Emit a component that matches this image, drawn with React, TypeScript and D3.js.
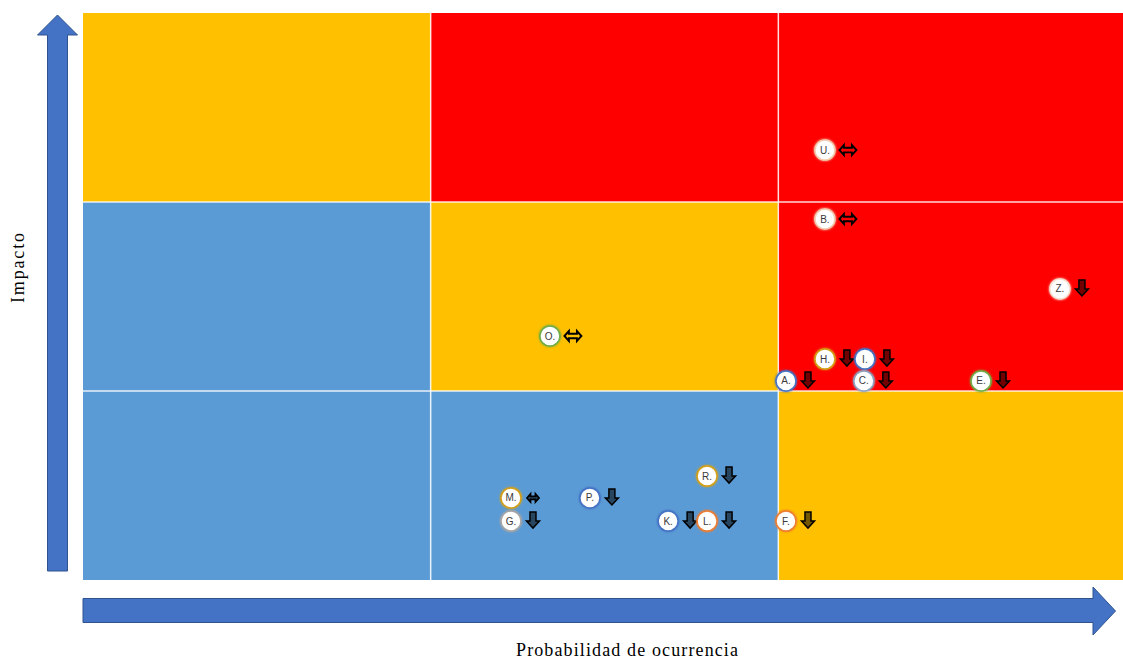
import React from "react";
import * as d3 from "d3";

const cellColors: string[][] = [
  // rows from bottom (impact 0) to top (impact 2), columns prob 0..2
  ["#5B9BD5", "#5B9BD5", "#FFC000"],
  ["#5B9BD5", "#FFC000", "#FF0000"],
  ["#FFC000", "#FF0000", "#FF0000"],
];

const labels = ["U.", "B.", "Z.", "O.", "H.", "I.", "A.", "C.", "E.", "R.", "M.", "P.", "G.", "K.", "L.", "F."];
const probValues = [2.134, 2.134, 2.81, 1.343, 2.134, 2.249, 2.022, 2.246, 2.583, 1.795, 1.231, 1.458, 1.231, 1.683, 1.795, 2.022];
const impactValues = [2.275, 1.91, 1.54, 1.291, 1.169, 1.169, 1.053, 1.053, 1.053, 0.55, 0.434, 0.434, 0.312, 0.312, 0.312, 0.312];
const trends = ["both", "both", "down", "both", "down", "down", "down", "down", "down", "down", "small", "down", "down", "down", "down", "down"];
const borderColors = ["#F2CDB0", "#F2CDB0", "#F5E0D0", "#70AD47", "#D4A017", "#4472C4", "#4472C4", "#8FA3BF", "#70AD47", "#D4A017", "#D4A017", "#4472C4", "#A5A5A5", "#4472C4", "#ED7D31", "#ED7D31"];

const xAxisTitle = "Probabilidad de ocurrencia";
const yAxisTitle = "Impacto";

export default function App() {
  const W = 1123;
  const H = 660;
  const x = d3.scaleLinear().domain([0, 3]).range([83, 1126]);
  const y = d3.scaleLinear().domain([0, 3]).range([580, 13]);

  const downPath = "M-3,-8 L3,-8 L3,1 L6.5,1 L0,8 L-6.5,1 L-3,1 Z";
  const bothPath = "M-8.5,0 L-4,-5 L-4,-2.3 L4,-2.3 L4,-5 L8.5,0 L4,5 L4,2.3 L-4,2.3 L-4,5 Z";
  const smallPath = "M-6,0 L-2.5,-4 L-2.5,-1.5 L2.5,-1.5 L2.5,-4 L6,0 L2.5,4 L2.5,1.5 L-2.5,1.5 L-2.5,4 Z";

  const cells: { c: number; r: number; color: string }[] = [];
  cellColors.forEach((row, r) => row.forEach((color, c) => cells.push({ c, r, color })));

  return (
    <svg width={W} height={H} style={{ position: "absolute", left: 0, top: 0, background: "#fff" }}>
      <defs>
        <filter id="glow" x="-50%" y="-50%" width="200%" height="200%">
          <feGaussianBlur stdDeviation="1" />
        </filter>
      </defs>
      {cells.map((d) => (
        <rect
          key={`${d.c}-${d.r}`}
          x={x(d.c)}
          y={y(d.r + 1)}
          width={Math.min(x(d.c + 1), W) - x(d.c)}
          height={y(d.r) - y(d.r + 1)}
          fill={d.color}
        />
      ))}
      {[1, 2].map((v) => (
        <line key={"vx" + v} x1={x(v)} x2={x(v)} y1={y(3)} y2={y(0)} stroke="#fff" strokeWidth={1.5} opacity={0.85} />
      ))}
      {[1, 2].map((v) => (
        <line key={"hy" + v} x1={x(0)} x2={W} y1={y(v)} y2={y(v)} stroke="#fff" strokeWidth={1.5} opacity={0.85} />
      ))}

      {labels.map((lab, i) => {
        const cx = x(probValues[i]);
        const cy = y(impactValues[i]);
        const t = trends[i];
        return (
          <g key={lab}>
            <circle cx={cx} cy={cy} r={11} fill={borderColors[i]} filter="url(#glow)" opacity={0.9} />
            <circle cx={cx} cy={cy} r={10} fill="#fff" stroke={borderColors[i]} strokeWidth={1.5} />
            <text
              x={cx}
              y={cy + 3.5}
              textAnchor="middle"
              fontFamily="'Liberation Sans', Arial, sans-serif"
              fontSize={10}
              fill="#3a3a3a"
            >
              {lab}
            </text>
            {t === "down" && (
              <path
                d={downPath}
                transform={`translate(${cx + 22},${cy - 1})`}
                fill="rgba(0,0,0,0.55)"
                stroke="#000"
                strokeWidth={1.5}
                strokeLinejoin="miter"
              />
            )}
            {t === "both" && (
              <path
                d={bothPath}
                transform={`translate(${cx + 23},${cy})`}
                fill="none"
                stroke="#000"
                strokeWidth={1.9}
              />
            )}
            {t === "small" && (
              <path
                d={smallPath}
                transform={`translate(${cx + 22},${cy})`}
                fill="rgba(0,0,0,0.5)"
                stroke="#000"
                strokeWidth={1.8}
              />
            )}
          </g>
        );
      })}

      {/* vertical axis arrow */}
      <path
        d="M47.5,571 L47.5,35 L37.5,35 L57.5,15 L77.5,35 L67.5,35 L67.5,571 Z"
        fill="#4472C4"
        stroke="#2F528F"
        strokeWidth={1}
      />
      {/* horizontal axis arrow */}
      <path
        d="M83,598.5 L1093,598.5 L1093,587 L1115.5,611 L1093,635 L1093,622.5 L83,622.5 Z"
        fill="#4472C4"
        stroke="#2F528F"
        strokeWidth={1}
      />

      <text
        x={516}
        y={656}
        textLength={222}
        lengthAdjust="spacing"
        fontFamily="'Liberation Serif', 'Times New Roman', serif"
        fontSize={18}
        fill="#000"
      >
        {xAxisTitle}
      </text>
      <text
        transform="translate(24,303) rotate(-90)"
        textLength={70}
        lengthAdjust="spacing"
        fontFamily="'Liberation Serif', 'Times New Roman', serif"
        fontSize={18}
        fill="#000"
      >
        {yAxisTitle}
      </text>
    </svg>
  );
}
